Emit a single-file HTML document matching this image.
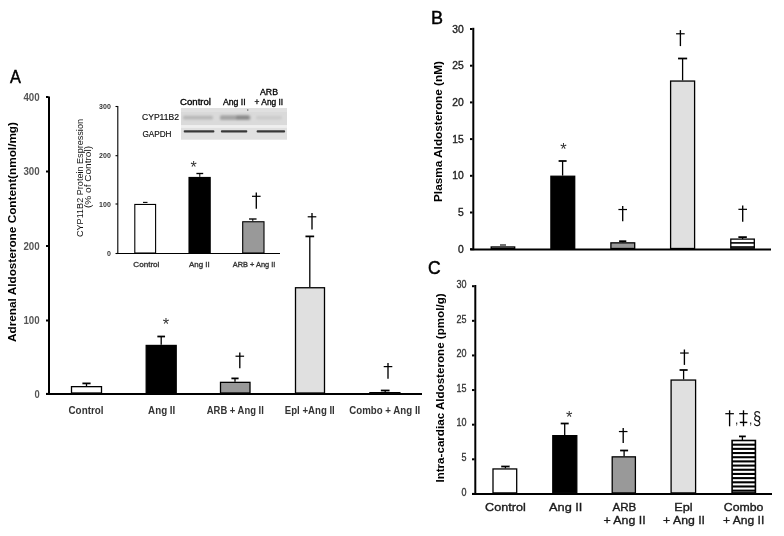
<!DOCTYPE html>
<html><head><meta charset="utf-8"><style>
html,body{margin:0;padding:0;background:#fff;width:784px;height:536px;overflow:hidden}
svg{display:block;will-change:transform}
</style></head><body>
<svg width="784" height="536" viewBox="0 0 784 536">
<rect width="784" height="536" fill="#fff"/>
<text x="9.9" y="82.8" font-family="Liberation Sans, sans-serif" font-size="18" font-weight="normal" fill="#000" text-anchor="start" textLength="10.9" lengthAdjust="spacingAndGlyphs" stroke="#000" stroke-width="0.45">A</text>
<line x1="49" y1="96.5" x2="49" y2="394.9" stroke="#000" stroke-width="2"/>
<line x1="46" y1="97" x2="48.5" y2="97" stroke="#000" stroke-width="2"/>
<text x="39.6" y="100.6" font-family="Liberation Sans, sans-serif" font-size="10.2" font-weight="bold" fill="#555" text-anchor="end" textLength="16.2" lengthAdjust="spacingAndGlyphs">400</text>
<line x1="46" y1="171.5" x2="48.5" y2="171.5" stroke="#000" stroke-width="2"/>
<text x="39.6" y="175.1" font-family="Liberation Sans, sans-serif" font-size="10.2" font-weight="bold" fill="#555" text-anchor="end" textLength="16.2" lengthAdjust="spacingAndGlyphs">300</text>
<line x1="46" y1="246" x2="48.5" y2="246" stroke="#000" stroke-width="2"/>
<text x="39.6" y="249.6" font-family="Liberation Sans, sans-serif" font-size="10.2" font-weight="bold" fill="#555" text-anchor="end" textLength="16.2" lengthAdjust="spacingAndGlyphs">200</text>
<line x1="46" y1="320.5" x2="48.5" y2="320.5" stroke="#000" stroke-width="2"/>
<text x="39.6" y="324.1" font-family="Liberation Sans, sans-serif" font-size="10.2" font-weight="bold" fill="#555" text-anchor="end" textLength="16.2" lengthAdjust="spacingAndGlyphs">100</text>
<line x1="46" y1="393.9" x2="48.5" y2="393.9" stroke="#000" stroke-width="2"/>
<text x="39.6" y="397.5" font-family="Liberation Sans, sans-serif" font-size="10.2" font-weight="bold" fill="#555" text-anchor="end" textLength="5.2" lengthAdjust="spacingAndGlyphs">0</text>
<line x1="46" y1="393.9" x2="422" y2="393.9" stroke="#000" stroke-width="2"/>
<rect x="71.5" y="386.65" width="30" height="6.35" fill="#fff" stroke="#000" stroke-width="1.3"/>
<line x1="86.5" y1="386" x2="86.5" y2="383.4" stroke="#000" stroke-width="1.3"/>
<line x1="82.4" y1="383.4" x2="90.6" y2="383.4" stroke="#000" stroke-width="1.7550000000000001"/>
<rect x="146.2" y="345.45" width="30" height="47.55" fill="#000" stroke="#000" stroke-width="1.3"/>
<line x1="161.2" y1="344.8" x2="161.2" y2="336.5" stroke="#000" stroke-width="1.3"/>
<line x1="157.35" y1="336.5" x2="165.04999999999998" y2="336.5" stroke="#000" stroke-width="1.7550000000000001"/>
<text x="165.9" y="329.75625" font-family="Liberation Sans, sans-serif" font-size="16.5" font-weight="normal" fill="#333" text-anchor="middle">*</text>
<rect x="220.5" y="382.35" width="29.5" height="10.65" fill="#999" stroke="#000" stroke-width="1.3"/>
<line x1="235" y1="381.7" x2="235" y2="378.4" stroke="#000" stroke-width="1.3"/>
<line x1="231.4" y1="378.4" x2="238.6" y2="378.4" stroke="#000" stroke-width="1.7550000000000001"/>
<path d="M239.8 352.6 L239.8 368.3" stroke="#000" stroke-width="1.35" fill="none"/>
<path d="M235.5 356.211 L244.10000000000002 356.211" stroke="#000" stroke-width="1.215" fill="none"/>
<rect x="295.5" y="287.75" width="29" height="105.25" fill="#e0e0e0" stroke="#000" stroke-width="1.3"/>
<line x1="309.8" y1="287.1" x2="309.8" y2="236.4" stroke="#000" stroke-width="1.3"/>
<line x1="305.45" y1="236.4" x2="314.15000000000003" y2="236.4" stroke="#000" stroke-width="1.7550000000000001"/>
<path d="M312 213 L312 229.5" stroke="#000" stroke-width="1.35" fill="none"/>
<path d="M307.7 216.795 L316.3 216.795" stroke="#000" stroke-width="1.215" fill="none"/>
<rect x="369.9" y="392.65" width="30" height="0.5" fill="#fff" stroke="#000" stroke-width="1.3"/>
<line x1="385.2" y1="392" x2="385.2" y2="390.5" stroke="#000" stroke-width="1.3"/>
<line x1="380.84999999999997" y1="390.5" x2="389.55" y2="390.5" stroke="#000" stroke-width="1.7550000000000001"/>
<path d="M388 363 L388 378.7" stroke="#000" stroke-width="1.35" fill="none"/>
<path d="M383.7 366.611 L392.3 366.611" stroke="#000" stroke-width="1.215" fill="none"/>
<text x="68.5" y="413.7" font-family="Liberation Sans, sans-serif" font-size="10" font-weight="bold" fill="#333" text-anchor="start" textLength="35" lengthAdjust="spacingAndGlyphs">Control</text>
<text x="148.1" y="413.7" font-family="Liberation Sans, sans-serif" font-size="10" font-weight="bold" fill="#333" text-anchor="start" textLength="27.2" lengthAdjust="spacingAndGlyphs">Ang II</text>
<text x="206.8" y="413.7" font-family="Liberation Sans, sans-serif" font-size="10" font-weight="bold" fill="#333" text-anchor="start" textLength="57.0" lengthAdjust="spacingAndGlyphs">ARB + Ang II</text>
<text x="284.8" y="413.7" font-family="Liberation Sans, sans-serif" font-size="10" font-weight="bold" fill="#333" text-anchor="start" textLength="50.0" lengthAdjust="spacingAndGlyphs">Epl +Ang II</text>
<text x="349.3" y="413.7" font-family="Liberation Sans, sans-serif" font-size="10" font-weight="bold" fill="#333" text-anchor="start" textLength="71.0" lengthAdjust="spacingAndGlyphs">Combo + Ang II</text>
<text transform="translate(16.3,232) rotate(-90)" x="0" y="0" font-family="Liberation Sans, sans-serif" font-size="11.5" font-weight="bold" fill="#000" text-anchor="middle" textLength="220" lengthAdjust="spacingAndGlyphs">Adrenal Aldosterone Content(nmol/mg)</text>
<defs><filter id="bl" x="-20%" y="-50%" width="140%" height="200%"><feGaussianBlur stdDeviation="0.9"/></filter><filter id="bl2" x="-20%" y="-80%" width="140%" height="260%"><feGaussianBlur stdDeviation="0.75"/></filter></defs>
<rect x="181" y="108" width="106" height="17.5" fill="#dadada"/>
<rect x="181" y="108" width="106" height="4" fill="#e0e0e0"/>
<rect x="181" y="125.4" width="106" height="2.2" fill="#efefef"/>
<rect x="181" y="127.6" width="106" height="12.1" fill="#e0e0e0"/>
<g filter="url(#bl)">
<rect x="183" y="115.8" width="30" height="3.8" fill="#b8b8b8" rx="1.5"/>
<rect x="220" y="115.3" width="30.5" height="4.6" fill="#a4a4a4" rx="1.5"/>
<rect x="236" y="115.6" width="13" height="4" fill="#8a8a8a" rx="1.5"/>
<rect x="256" y="116" width="26" height="3.4" fill="#cbcbcb" rx="1.5"/>
</g>
<rect x="247" y="109.3" width="1.4" height="1.4" fill="#777"/>
<g filter="url(#bl2)">
<rect x="183.7" y="130.20000000000002" width="30.700000000000017" height="2.4" fill="#383838" rx="1"/>
<rect x="220.9" y="130.35" width="26.400000000000006" height="2.1" fill="#383838" rx="1"/>
<rect x="256.6" y="130.3" width="28.5" height="2.2" fill="#383838" rx="1"/>
</g>
<text x="180" y="105" font-family="Liberation Sans, sans-serif" font-size="8.3" font-weight="normal" fill="#000" text-anchor="start" textLength="31" lengthAdjust="spacingAndGlyphs" stroke="#000" stroke-width="0.3">Control</text>
<text x="222.9" y="105" font-family="Liberation Sans, sans-serif" font-size="8.3" font-weight="normal" fill="#000" text-anchor="start" textLength="22.8" lengthAdjust="spacingAndGlyphs" stroke="#000" stroke-width="0.3">Ang II</text>
<text x="260" y="95" font-family="Liberation Sans, sans-serif" font-size="8.3" font-weight="normal" fill="#000" text-anchor="start" textLength="18" lengthAdjust="spacingAndGlyphs" stroke="#000" stroke-width="0.3">ARB</text>
<text x="254.6" y="105" font-family="Liberation Sans, sans-serif" font-size="8.3" font-weight="normal" fill="#000" text-anchor="start" textLength="28.6" lengthAdjust="spacingAndGlyphs" stroke="#000" stroke-width="0.3">+ Ang II</text>
<text x="142" y="119.8" font-family="Liberation Sans, sans-serif" font-size="8.3" font-weight="normal" fill="#111" text-anchor="start" textLength="37" lengthAdjust="spacingAndGlyphs" stroke="#000" stroke-width="0.15">CYP11B2</text>
<text x="142.4" y="137" font-family="Liberation Sans, sans-serif" font-size="8.3" font-weight="normal" fill="#111" text-anchor="start" textLength="29.1" lengthAdjust="spacingAndGlyphs" stroke="#000" stroke-width="0.15">GAPDH</text>
<line x1="117.8" y1="106" x2="117.8" y2="254" stroke="#000" stroke-width="1.1"/>
<line x1="115.5" y1="106.5" x2="117.8" y2="106.5" stroke="#000" stroke-width="1.1"/>
<text x="110.8" y="109.1" font-family="Liberation Sans, sans-serif" font-size="7" font-weight="bold" fill="#333" text-anchor="end">300</text>
<line x1="115.5" y1="155.7" x2="117.8" y2="155.7" stroke="#000" stroke-width="1.1"/>
<text x="110.8" y="158.29999999999998" font-family="Liberation Sans, sans-serif" font-size="7" font-weight="bold" fill="#333" text-anchor="end">200</text>
<line x1="115.5" y1="204" x2="117.8" y2="204" stroke="#000" stroke-width="1.1"/>
<text x="110.8" y="206.6" font-family="Liberation Sans, sans-serif" font-size="7" font-weight="bold" fill="#333" text-anchor="end">100</text>
<line x1="115.5" y1="253.5" x2="117.8" y2="253.5" stroke="#000" stroke-width="1.1"/>
<text x="110.8" y="256.1" font-family="Liberation Sans, sans-serif" font-size="7" font-weight="bold" fill="#333" text-anchor="end">0</text>
<line x1="117.3" y1="253.5" x2="280" y2="253.5" stroke="#000" stroke-width="1.2"/>
<rect x="134.8" y="204.45" width="20.8" height="48.55" fill="#fff" stroke="#000" stroke-width="1.1"/>
<line x1="143" y1="202.4" x2="147.5" y2="202.4" stroke="#000" stroke-width="1.1"/>
<rect x="189" y="177.45" width="21.2" height="75.55" fill="#000" stroke="#000" stroke-width="1.1"/>
<line x1="199.8" y1="176.9" x2="199.8" y2="173.5" stroke="#000" stroke-width="1.0"/>
<line x1="196.4" y1="173.5" x2="203.20000000000002" y2="173.5" stroke="#000" stroke-width="1.35"/>
<text x="193.5" y="172.6" font-family="Liberation Sans, sans-serif" font-size="16" font-weight="normal" fill="#333" text-anchor="middle">*</text>
<rect x="242.7" y="221.75" width="21.3" height="31.25" fill="#999" stroke="#000" stroke-width="1.1"/>
<line x1="252.8" y1="221.2" x2="252.8" y2="219" stroke="#000" stroke-width="1.0"/>
<line x1="249.05" y1="219" x2="256.55" y2="219" stroke="#000" stroke-width="1.35"/>
<path d="M256.3 192.6 L256.3 208.7" stroke="#000" stroke-width="1.35" fill="none"/>
<path d="M252.0 196.303 L260.6 196.303" stroke="#000" stroke-width="1.215" fill="none"/>
<text x="133.3" y="266.9" font-family="Liberation Sans, sans-serif" font-size="6.8" font-weight="normal" fill="#333" text-anchor="start" textLength="26.1" lengthAdjust="spacingAndGlyphs" stroke="#333" stroke-width="0.3">Control</text>
<text x="189" y="266.9" font-family="Liberation Sans, sans-serif" font-size="6.8" font-weight="normal" fill="#333" text-anchor="start" textLength="20.7" lengthAdjust="spacingAndGlyphs" stroke="#333" stroke-width="0.3">Ang II</text>
<text x="232.8" y="266.9" font-family="Liberation Sans, sans-serif" font-size="6.8" font-weight="normal" fill="#333" text-anchor="start" textLength="42.6" lengthAdjust="spacingAndGlyphs" stroke="#333" stroke-width="0.3">ARB + Ang II</text>
<text transform="translate(82.6,178) rotate(-90)" x="0" y="0" font-family="Liberation Sans, sans-serif" font-size="8.8" font-weight="normal" fill="#111" text-anchor="middle" textLength="118" lengthAdjust="spacingAndGlyphs">CYP11B2  Protein Espression</text>
<text transform="translate(90.8,177) rotate(-90)" x="0" y="0" font-family="Liberation Sans, sans-serif" font-size="8.8" font-weight="normal" fill="#111" text-anchor="middle" textLength="62" lengthAdjust="spacingAndGlyphs">(% of Control)</text>
<text x="430.9" y="23.7" font-family="Liberation Sans, sans-serif" font-size="18" font-weight="normal" fill="#000" text-anchor="start" stroke="#000" stroke-width="0.45">B</text>
<line x1="473.3" y1="27.8" x2="473.3" y2="250.2" stroke="#000" stroke-width="2"/>
<line x1="470" y1="29.0" x2="472.5" y2="29.0" stroke="#000" stroke-width="2"/>
<text x="463.8" y="32.6" font-family="Liberation Sans, sans-serif" font-size="10.3" font-weight="normal" fill="#222" text-anchor="end" stroke="#222" stroke-width="0.35">30</text>
<line x1="470" y1="65.7" x2="472.5" y2="65.7" stroke="#000" stroke-width="2"/>
<text x="463.8" y="69.3" font-family="Liberation Sans, sans-serif" font-size="10.3" font-weight="normal" fill="#222" text-anchor="end" stroke="#222" stroke-width="0.35">25</text>
<line x1="470" y1="102.4" x2="472.5" y2="102.4" stroke="#000" stroke-width="2"/>
<text x="463.8" y="106.0" font-family="Liberation Sans, sans-serif" font-size="10.3" font-weight="normal" fill="#222" text-anchor="end" stroke="#222" stroke-width="0.35">20</text>
<line x1="470" y1="139.10000000000002" x2="472.5" y2="139.10000000000002" stroke="#000" stroke-width="2"/>
<text x="463.8" y="142.70000000000002" font-family="Liberation Sans, sans-serif" font-size="10.3" font-weight="normal" fill="#222" text-anchor="end" stroke="#222" stroke-width="0.35">15</text>
<line x1="470" y1="175.8" x2="472.5" y2="175.8" stroke="#000" stroke-width="2"/>
<text x="463.8" y="179.4" font-family="Liberation Sans, sans-serif" font-size="10.3" font-weight="normal" fill="#222" text-anchor="end" stroke="#222" stroke-width="0.35">10</text>
<line x1="470" y1="212.5" x2="472.5" y2="212.5" stroke="#000" stroke-width="2"/>
<text x="463.8" y="216.1" font-family="Liberation Sans, sans-serif" font-size="10.3" font-weight="normal" fill="#222" text-anchor="end" stroke="#222" stroke-width="0.35">5</text>
<line x1="470" y1="249.20000000000002" x2="472.5" y2="249.20000000000002" stroke="#000" stroke-width="2"/>
<text x="463.8" y="252.8" font-family="Liberation Sans, sans-serif" font-size="10.3" font-weight="normal" fill="#222" text-anchor="end" stroke="#222" stroke-width="0.35">0</text>
<line x1="470.3" y1="249.6" x2="771" y2="249.6" stroke="#000" stroke-width="2"/>
<rect x="491.2" y="246.95" width="23.5" height="1.55" fill="#fff" stroke="#000" stroke-width="1.3"/>
<line x1="500" y1="245" x2="506" y2="245" stroke="#000" stroke-width="1.1"/>
<rect x="550.9" y="176.25" width="23.8" height="72.25" fill="#000" stroke="#000" stroke-width="1.3"/>
<line x1="562.6" y1="175.6" x2="562.6" y2="161" stroke="#000" stroke-width="1.3"/>
<line x1="558.6" y1="161" x2="566.6" y2="161" stroke="#000" stroke-width="1.7550000000000001"/>
<text x="563.4" y="155.35625000000002" font-family="Liberation Sans, sans-serif" font-size="16.5" font-weight="normal" fill="#333" text-anchor="middle">*</text>
<rect x="610.9" y="242.85" width="23.8" height="5.65" fill="#999" stroke="#000" stroke-width="1.3"/>
<line x1="622.7" y1="242.2" x2="622.7" y2="241.2" stroke="#000" stroke-width="1.3"/>
<line x1="619.1" y1="241.2" x2="626.3000000000001" y2="241.2" stroke="#000" stroke-width="1.7550000000000001"/>
<path d="M622.7 206 L622.7 221.3" stroke="#000" stroke-width="1.35" fill="none"/>
<path d="M618.4000000000001 209.519 L627.0 209.519" stroke="#000" stroke-width="1.215" fill="none"/>
<rect x="670.6" y="81.05" width="24" height="167.45" fill="#e0e0e0" stroke="#000" stroke-width="1.3"/>
<line x1="682.6" y1="80.4" x2="682.6" y2="58.5" stroke="#000" stroke-width="1.3"/>
<line x1="678.0500000000001" y1="58.5" x2="687.15" y2="58.5" stroke="#000" stroke-width="1.7550000000000001"/>
<path d="M680.4 30.1 L680.4 46.1" stroke="#000" stroke-width="1.35" fill="none"/>
<path d="M676.1 33.78 L684.6999999999999 33.78" stroke="#000" stroke-width="1.215" fill="none"/>
<rect x="730.8" y="239.1" width="23.5" height="9.1" fill="#fff" stroke="#000" stroke-width="1.3"/>
<line x1="730.8" y1="242.9" x2="754.3" y2="242.9" stroke="#000" stroke-width="1.6"/>
<line x1="730.8" y1="247" x2="754.3" y2="247" stroke="#000" stroke-width="1.6"/>
<line x1="742.6" y1="239.1" x2="742.6" y2="237.1" stroke="#000" stroke-width="1.3"/>
<line x1="738.35" y1="237.1" x2="746.85" y2="237.1" stroke="#000" stroke-width="1.7550000000000001"/>
<path d="M742.7 205.6 L742.7 221.8" stroke="#000" stroke-width="1.35" fill="none"/>
<path d="M738.4000000000001 209.326 L747.0 209.326" stroke="#000" stroke-width="1.215" fill="none"/>
<text transform="translate(442.3,131.5) rotate(-90)" x="0" y="0" font-family="Liberation Sans, sans-serif" font-size="11.5" font-weight="bold" fill="#000" text-anchor="middle" textLength="141" lengthAdjust="spacingAndGlyphs">Plasma Aldosterone (nM)</text>
<text x="428.1" y="273.6" font-family="Liberation Sans, sans-serif" font-size="17.5" font-weight="normal" fill="#000" text-anchor="start" stroke="#000" stroke-width="0.45">C</text>
<line x1="475.3" y1="285" x2="475.3" y2="494.9" stroke="#000" stroke-width="2"/>
<line x1="472" y1="286.2" x2="474.5" y2="286.2" stroke="#000" stroke-width="2"/>
<text x="466.4" y="288.0" font-family="Liberation Sans, sans-serif" font-size="10.2" font-weight="normal" fill="#333" text-anchor="end" textLength="10" lengthAdjust="spacingAndGlyphs" stroke="#333" stroke-width="0.3">30</text>
<line x1="472" y1="320.82" x2="474.5" y2="320.82" stroke="#000" stroke-width="2"/>
<text x="466.4" y="322.62" font-family="Liberation Sans, sans-serif" font-size="10.2" font-weight="normal" fill="#333" text-anchor="end" textLength="10" lengthAdjust="spacingAndGlyphs" stroke="#333" stroke-width="0.3">25</text>
<line x1="472" y1="355.44" x2="474.5" y2="355.44" stroke="#000" stroke-width="2"/>
<text x="466.4" y="357.24" font-family="Liberation Sans, sans-serif" font-size="10.2" font-weight="normal" fill="#333" text-anchor="end" textLength="10" lengthAdjust="spacingAndGlyphs" stroke="#333" stroke-width="0.3">20</text>
<line x1="472" y1="390.05999999999995" x2="474.5" y2="390.05999999999995" stroke="#000" stroke-width="2"/>
<text x="466.4" y="391.85999999999996" font-family="Liberation Sans, sans-serif" font-size="10.2" font-weight="normal" fill="#333" text-anchor="end" textLength="10" lengthAdjust="spacingAndGlyphs" stroke="#333" stroke-width="0.3">15</text>
<line x1="472" y1="424.67999999999995" x2="474.5" y2="424.67999999999995" stroke="#000" stroke-width="2"/>
<text x="466.4" y="426.47999999999996" font-family="Liberation Sans, sans-serif" font-size="10.2" font-weight="normal" fill="#333" text-anchor="end" textLength="10" lengthAdjust="spacingAndGlyphs" stroke="#333" stroke-width="0.3">10</text>
<line x1="472" y1="459.29999999999995" x2="474.5" y2="459.29999999999995" stroke="#000" stroke-width="2"/>
<text x="466.4" y="461.09999999999997" font-family="Liberation Sans, sans-serif" font-size="10.2" font-weight="normal" fill="#333" text-anchor="end" textLength="5" lengthAdjust="spacingAndGlyphs" stroke="#333" stroke-width="0.3">5</text>
<line x1="472" y1="493.91999999999996" x2="474.5" y2="493.91999999999996" stroke="#000" stroke-width="2"/>
<text x="466.4" y="495.71999999999997" font-family="Liberation Sans, sans-serif" font-size="10.2" font-weight="normal" fill="#333" text-anchor="end" textLength="5" lengthAdjust="spacingAndGlyphs" stroke="#333" stroke-width="0.3">0</text>
<line x1="472" y1="493.9" x2="772" y2="493.9" stroke="#000" stroke-width="2"/>
<rect x="493" y="468.95" width="23.7" height="23.95" fill="#fff" stroke="#000" stroke-width="1.3"/>
<line x1="505.4" y1="468.3" x2="505.4" y2="466.5" stroke="#000" stroke-width="1.3"/>
<line x1="501.2" y1="466.5" x2="509.59999999999997" y2="466.5" stroke="#000" stroke-width="1.7550000000000001"/>
<rect x="552.8" y="435.65" width="24" height="57.25" fill="#000" stroke="#000" stroke-width="1.3"/>
<line x1="564.7" y1="435" x2="564.7" y2="423.5" stroke="#000" stroke-width="1.3"/>
<line x1="560.7" y1="423.5" x2="568.7" y2="423.5" stroke="#000" stroke-width="1.7550000000000001"/>
<text x="569.1" y="422.75625" font-family="Liberation Sans, sans-serif" font-size="16.5" font-weight="normal" fill="#333" text-anchor="middle">*</text>
<rect x="612.2" y="456.85" width="23.2" height="36.05" fill="#999" stroke="#000" stroke-width="1.3"/>
<line x1="624.1" y1="456.2" x2="624.1" y2="450.5" stroke="#000" stroke-width="1.3"/>
<line x1="620.1" y1="450.5" x2="628.1" y2="450.5" stroke="#000" stroke-width="1.7550000000000001"/>
<path d="M623.2 428.1 L623.2 443.1" stroke="#000" stroke-width="1.35" fill="none"/>
<path d="M618.9000000000001 431.55 L627.5 431.55" stroke="#000" stroke-width="1.215" fill="none"/>
<rect x="671.1" y="380.05" width="24.5" height="112.85" fill="#e0e0e0" stroke="#000" stroke-width="1.3"/>
<line x1="683.6" y1="379.4" x2="683.6" y2="370" stroke="#000" stroke-width="1.3"/>
<line x1="679.5500000000001" y1="370" x2="687.65" y2="370" stroke="#000" stroke-width="1.7550000000000001"/>
<path d="M684.4 349.5 L684.4 364.9" stroke="#000" stroke-width="1.35" fill="none"/>
<path d="M680.1 353.042 L688.6999999999999 353.042" stroke="#000" stroke-width="1.215" fill="none"/>
<rect x="732.1" y="440.5" width="23.3" height="52.4" fill="#fff" stroke="#000" stroke-width="1.6"/>
<line x1="732.1" y1="444.68" x2="755.4" y2="444.68" stroke="#000" stroke-width="2.1"/>
<line x1="732.1" y1="448.86" x2="755.4" y2="448.86" stroke="#000" stroke-width="2.1"/>
<line x1="732.1" y1="453.04" x2="755.4" y2="453.04" stroke="#000" stroke-width="2.1"/>
<line x1="732.1" y1="457.22" x2="755.4" y2="457.22" stroke="#000" stroke-width="2.1"/>
<line x1="732.1" y1="461.40000000000003" x2="755.4" y2="461.40000000000003" stroke="#000" stroke-width="2.1"/>
<line x1="732.1" y1="465.58000000000004" x2="755.4" y2="465.58000000000004" stroke="#000" stroke-width="2.1"/>
<line x1="732.1" y1="469.76000000000005" x2="755.4" y2="469.76000000000005" stroke="#000" stroke-width="2.1"/>
<line x1="732.1" y1="473.94000000000005" x2="755.4" y2="473.94000000000005" stroke="#000" stroke-width="2.1"/>
<line x1="732.1" y1="478.12000000000006" x2="755.4" y2="478.12000000000006" stroke="#000" stroke-width="2.1"/>
<line x1="732.1" y1="482.30000000000007" x2="755.4" y2="482.30000000000007" stroke="#000" stroke-width="2.1"/>
<line x1="732.1" y1="486.4800000000001" x2="755.4" y2="486.4800000000001" stroke="#000" stroke-width="2.1"/>
<line x1="732.1" y1="490.6600000000001" x2="755.4" y2="490.6600000000001" stroke="#000" stroke-width="2.1"/>
<line x1="742.4" y1="440.1" x2="742.4" y2="436.4" stroke="#000" stroke-width="1.3"/>
<line x1="739.0" y1="436.4" x2="745.8" y2="436.4" stroke="#000" stroke-width="1.7550000000000001"/>
<path d="M729.6 410.3 L729.6 426.3" stroke="#000" stroke-width="1.35" fill="none"/>
<path d="M725.3000000000001 413.7 L733.9 413.7" stroke="#000" stroke-width="1.215" fill="none"/>
<path d="M743.5 410.3 L743.5 426.3" stroke="#000" stroke-width="1.35" fill="none"/>
<path d="M739.2 413.7 L747.8 413.7" stroke="#000" stroke-width="1.215" fill="none"/>
<line x1="739.8" y1="422.4" x2="747.3" y2="422.4" stroke="#000" stroke-width="1.45"/>
<text x="735.0" y="424.4" font-family="Liberation Sans, sans-serif" font-size="12" font-weight="normal" fill="#222" text-anchor="start">,</text>
<text x="748.9" y="424.4" font-family="Liberation Sans, sans-serif" font-size="12" font-weight="normal" fill="#222" text-anchor="start">,</text>
<text x="753.0" y="424.2" font-family="Liberation Sans, sans-serif" font-size="19" font-weight="normal" fill="#111" text-anchor="start" textLength="8.2" lengthAdjust="spacingAndGlyphs">§</text>
<text x="485.09999999999997" y="510.8" font-family="Liberation Sans, sans-serif" font-size="11.3" font-weight="normal" fill="#1a1a1a" text-anchor="start" textLength="40.6" lengthAdjust="spacingAndGlyphs" stroke="#1a1a1a" stroke-width="0.35">Control</text>
<text x="549.0" y="510.8" font-family="Liberation Sans, sans-serif" font-size="11.3" font-weight="normal" fill="#1a1a1a" text-anchor="start" textLength="33.4" lengthAdjust="spacingAndGlyphs" stroke="#1a1a1a" stroke-width="0.35">Ang II</text>
<text x="612.4" y="510.8" font-family="Liberation Sans, sans-serif" font-size="11.3" font-weight="normal" fill="#1a1a1a" text-anchor="start" textLength="23.9" lengthAdjust="spacingAndGlyphs" stroke="#1a1a1a" stroke-width="0.35">ARB</text>
<text x="603.4" y="523.9" font-family="Liberation Sans, sans-serif" font-size="11.8" font-weight="normal" fill="#1a1a1a" text-anchor="start" textLength="42.2" lengthAdjust="spacingAndGlyphs" stroke="#1a1a1a" stroke-width="0.35">+ Ang II</text>
<text x="674.1999999999999" y="510.8" font-family="Liberation Sans, sans-serif" font-size="11.3" font-weight="normal" fill="#1a1a1a" text-anchor="start" textLength="18.3" lengthAdjust="spacingAndGlyphs" stroke="#1a1a1a" stroke-width="0.35">Epl</text>
<text x="663.1" y="523.9" font-family="Liberation Sans, sans-serif" font-size="11.8" font-weight="normal" fill="#1a1a1a" text-anchor="start" textLength="41.9" lengthAdjust="spacingAndGlyphs" stroke="#1a1a1a" stroke-width="0.35">+ Ang II</text>
<text x="723.8" y="510.8" font-family="Liberation Sans, sans-serif" font-size="11.3" font-weight="normal" fill="#1a1a1a" text-anchor="start" textLength="39.6" lengthAdjust="spacingAndGlyphs" stroke="#1a1a1a" stroke-width="0.35">Combo</text>
<text x="722.9" y="523.9" font-family="Liberation Sans, sans-serif" font-size="11.8" font-weight="normal" fill="#1a1a1a" text-anchor="start" textLength="41.4" lengthAdjust="spacingAndGlyphs" stroke="#1a1a1a" stroke-width="0.35">+ Ang II</text>
<text transform="translate(444.3,388) rotate(-90)" x="0" y="0" font-family="Liberation Sans, sans-serif" font-size="11.5" font-weight="bold" fill="#000" text-anchor="middle" textLength="189.2" lengthAdjust="spacingAndGlyphs">Intra-cardiac Aldosterone (pmol/g)</text>
</svg>
</body></html>
